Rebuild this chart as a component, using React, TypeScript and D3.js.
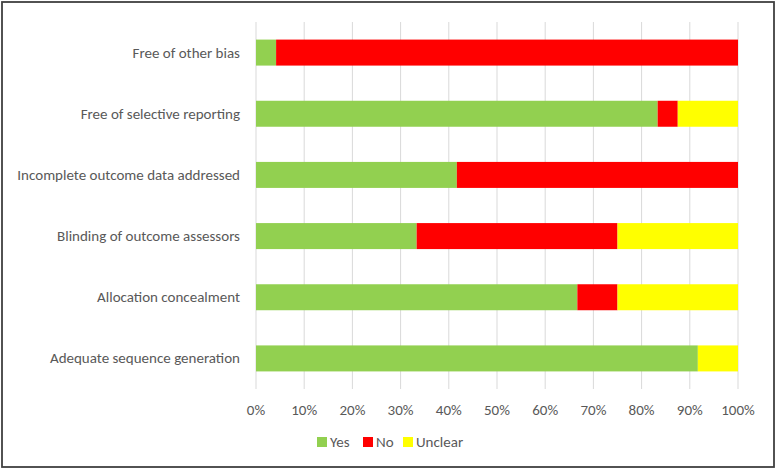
import React from "react";
import * as d3 from "d3";

const categories = [
  "Free of other bias",
  "Free of selective reporting",
  "Incomplete outcome data addressed",
  "Blinding of outcome assessors ",
  "Allocation concealment",
  "Adequate sequence generation",
];
const yesValues = [4.17, 83.33, 41.67, 33.33, 66.67, 91.67];
const noValues = [95.83, 4.17, 58.33, 41.67, 8.33, 0];
const unclearValues = [0, 12.5, 0, 25, 25, 8.33];
const seriesNames = ["Yes", "No", "Unclear"];
const seriesColors = ["#92d050", "#ff0000", "#ffff00"];
const xTicks = [0, 10, 20, 30, 40, 50, 60, 70, 80, 90, 100];

export default function App() {
  const W = 777, H = 470;
  const left = 256, right = 738, top = 22, bottom = 389;
  const x = d3.scaleLinear().domain([0, 100]).range([left, right]);
  const y = d3.scaleBand().domain(categories).range([top, bottom]).paddingInner(0.575).paddingOuter(0.2875);
  const series = [yesValues, noValues, unclearValues];
  const font = "Carlito, 'Open Sans', 'Liberation Sans', sans-serif";
  const txt = "#595959";
  const fs = 15;
  const legendX = [317, 363, 403];
  return (
    <svg width={W} height={H} style={{ position: "absolute", left: 0, top: 0 }}>
      <rect x={0} y={0} width={W} height={H} fill="#fff" />
      <rect x={2} y={2} width={W - 5} height={H - 5} fill="none" stroke="#404040" strokeWidth={1.8} />
      {xTicks.map((t) => (
        <line key={t} x1={x(t)} x2={x(t)} y1={top} y2={bottom} stroke="#d9d9d9" strokeWidth={1} />
      ))}
      {categories.map((c, i) => {
        let acc = 0;
        return (
          <g key={c}>
            {series.map((s, j) => {
              const x0 = x(acc);
              acc += s[i];
              const x1 = x(acc);
              if (s[i] <= 0) return null;
              return (
                <rect key={j} x={x0} y={y(c)} width={x1 - x0} height={y.bandwidth()} fill={seriesColors[j]} />
              );
            })}
            <text x={240} y={(y(c) as number) + y.bandwidth() / 2} textAnchor="end" dominantBaseline="central"
              fontFamily={font} fontSize={fs} fill={txt}>{c}</text>
          </g>
        );
      })}
      {xTicks.map((t) => (
        <text key={t} x={x(t)} y={410} textAnchor="middle" dominantBaseline="central" fontFamily={font} fontSize={fs} fill={txt}>
          {t}%
        </text>
      ))}
      {seriesNames.map((n, i) => (
        <g key={n}>
          <rect x={legendX[i]} y={437} width={10} height={10} fill={seriesColors[i]} />
          <text x={legendX[i] + 13} y={442} dominantBaseline="central" fontFamily={font} fontSize={fs} fill={txt}>{n}</text>
        </g>
      ))}
    </svg>
  );
}
